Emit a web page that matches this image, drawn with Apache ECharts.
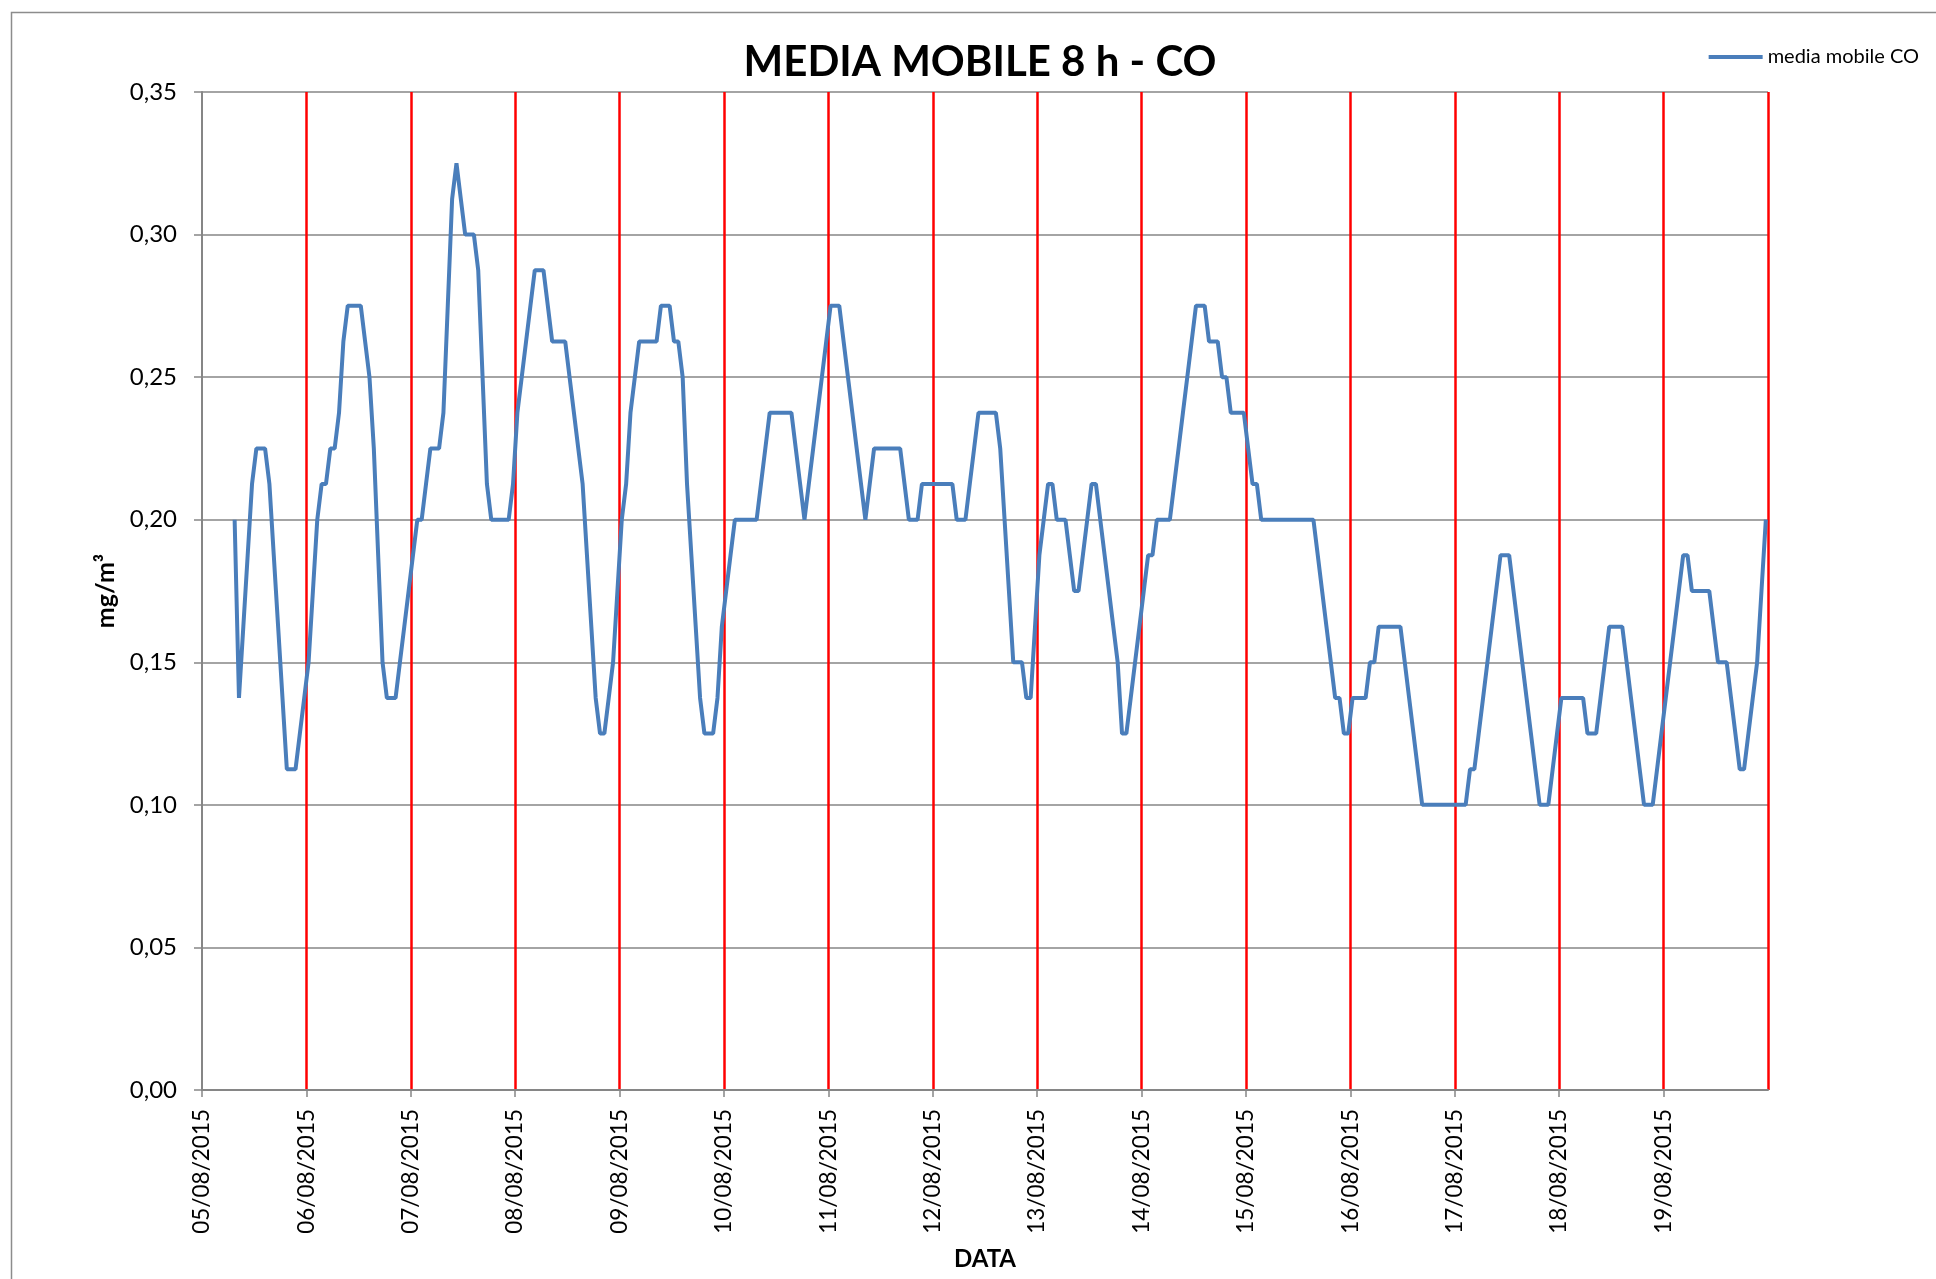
<!DOCTYPE html>
<html>
<head>
<meta charset="utf-8">
<title>MEDIA MOBILE 8 h - CO</title>
<script src="https://cdn.jsdelivr.net/npm/echarts@6/dist/echarts.min.js"></script>
<style>
    html, body { margin: 0; padding: 0; background: #fff; }
    #chart { width: 1936px; height: 1279px; }
</style>
</head>
<body>
<div id="chart"></div>
<script>
// etichette dell'asse delle date (una per giorno)
var dateLabels = ['05/08/2015', '06/08/2015', '07/08/2015', '08/08/2015', '09/08/2015',
    '10/08/2015', '11/08/2015', '12/08/2015', '13/08/2015', '14/08/2015',
    '15/08/2015', '16/08/2015', '17/08/2015', '18/08/2015', '19/08/2015'];

// media mobile 8 h CO (mg/m3), un valore per ora, ora 0..23 di ogni giorno
var day05 = [null, null, null, null, null, null, null,
    0.20, 0.1375, 0.1625, 0.1875, 0.2125, 0.225, 0.225, 0.225, 0.2125, 0.1875, 0.1625,
    0.1375, 0.1125, 0.1125, 0.1125, 0.125, 0.1375];
var day06 = [0.15, 0.175, 0.20, 0.2125, 0.2125, 0.225, 0.225, 0.2375, 0.2625, 0.275, 0.275, 0.275,
    0.275, 0.2625, 0.25, 0.225, 0.1875, 0.15, 0.1375, 0.1375, 0.1375, 0.15, 0.1625, 0.175];
var day07 = [0.1875, 0.20, 0.20, 0.2125, 0.225, 0.225, 0.225, 0.2375, 0.275, 0.3125, 0.325, 0.3125,
    0.30, 0.30, 0.30, 0.2875, 0.25, 0.2125, 0.20, 0.20, 0.20, 0.20, 0.20, 0.2125];
var day08 = [0.2375, 0.25, 0.2625, 0.275, 0.2875, 0.2875, 0.2875, 0.275, 0.2625, 0.2625, 0.2625, 0.2625,
    0.25, 0.2375, 0.225, 0.2125, 0.1875, 0.1625, 0.1375, 0.125, 0.125, 0.1375, 0.15, 0.175];
var day09 = [0.20, 0.2125, 0.2375, 0.25, 0.2625, 0.2625, 0.2625, 0.2625, 0.2625, 0.275, 0.275, 0.275,
    0.2625, 0.2625, 0.25, 0.2125, 0.1875, 0.1625, 0.1375, 0.125, 0.125, 0.125, 0.1375, 0.1625];
var day10 = [0.175, 0.1875, 0.20, 0.20, 0.20, 0.20, 0.20, 0.20, 0.2125, 0.225, 0.2375, 0.2375,
    0.2375, 0.2375, 0.2375, 0.2375, 0.225, 0.2125, 0.20, 0.2125, 0.225, 0.2375, 0.25, 0.2625];
var day11 = [0.275, 0.275, 0.275, 0.2625, 0.25, 0.2375, 0.225, 0.2125, 0.20, 0.2125, 0.225, 0.225,
    0.225, 0.225, 0.225, 0.225, 0.225, 0.2125, 0.20, 0.20, 0.20, 0.2125, 0.2125, 0.2125];
var day12 = [0.2125, 0.2125, 0.2125, 0.2125, 0.2125, 0.20, 0.20, 0.20, 0.2125, 0.225, 0.2375, 0.2375,
    0.2375, 0.2375, 0.2375, 0.225, 0.20, 0.175, 0.15, 0.15, 0.15, 0.1375, 0.1375, 0.1625];
var day13 = [0.1875, 0.20, 0.2125, 0.2125, 0.20, 0.20, 0.20, 0.1875, 0.175, 0.175, 0.1875, 0.20,
    0.2125, 0.2125, 0.20, 0.1875, 0.175, 0.1625, 0.15, 0.125, 0.125, 0.1375, 0.15, 0.1625];
var day14 = [0.175, 0.1875, 0.1875, 0.20, 0.20, 0.20, 0.20, 0.2125, 0.225, 0.2375, 0.25, 0.2625,
    0.275, 0.275, 0.275, 0.2625, 0.2625, 0.2625, 0.25, 0.25, 0.2375, 0.2375, 0.2375, 0.2375];
var day15 = [0.225, 0.2125, 0.2125, 0.20, 0.20, 0.20, 0.20, 0.20, 0.20, 0.20, 0.20, 0.20,
    0.20, 0.20, 0.20, 0.20, 0.1875, 0.175, 0.1625, 0.15, 0.1375, 0.1375, 0.125, 0.125];
var day16 = [0.1375, 0.1375, 0.1375, 0.1375, 0.15, 0.15, 0.1625, 0.1625, 0.1625, 0.1625, 0.1625, 0.1625,
    0.15, 0.1375, 0.125, 0.1125, 0.10, 0.10, 0.10, 0.10, 0.10, 0.10, 0.10, 0.10];
var day17 = [0.10, 0.10, 0.10, 0.1125, 0.1125, 0.125, 0.1375, 0.15, 0.1625, 0.175, 0.1875, 0.1875,
    0.1875, 0.175, 0.1625, 0.15, 0.1375, 0.125, 0.1125, 0.10, 0.10, 0.10, 0.1125, 0.125];
var day18 = [0.1375, 0.1375, 0.1375, 0.1375, 0.1375, 0.1375, 0.125, 0.125, 0.125, 0.1375, 0.15, 0.1625,
    0.1625, 0.1625, 0.1625, 0.15, 0.1375, 0.125, 0.1125, 0.10, 0.10, 0.10, 0.1125, 0.125];
var day19 = [0.1375, 0.15, 0.1625, 0.175, 0.1875, 0.1875, 0.175, 0.175, 0.175, 0.175, 0.175, 0.1625,
    0.15, 0.15, 0.15, 0.1375, 0.125, 0.1125, 0.1125, 0.125, 0.1375, 0.15, 0.175, 0.20];

var FONT = 'Lato, "Open Sans", sans-serif';
var HOURS_PER_DAY = 24;

var hourly = [].concat(day05, day06, day07, day08, day09, day10, day11, day12,
    day13, day14, day15, day16, day17, day18, day19);

// ogni valore al centro della sua ora (come Excel "tra i segni di graduazione")
var seriesData = [];
hourly.forEach(function (v, i) {
    if (v !== null) seriesData.push([i + 0.5, v]);
});

var chart = echarts.init(document.getElementById('chart'), null, { renderer: 'canvas' });

chart.setOption({
    backgroundColor: '#fff',
    animation: false,
    textStyle: { fontFamily: FONT },
    graphic: [{
        // cornice dell'area del grafico
        type: 'rect',
        left: 9, top: 10,
        shape: { width: 3000, height: 3000 },
        style: { fill: 'none', stroke: '#8c8c8c', lineWidth: 1.5 },
        silent: true
    }],
    title: {
        text: 'MEDIA MOBILE 8 h - CO',
        left: 975,
        top: 36,
        textAlign: 'center',
        textStyle: { fontFamily: FONT, fontSize: 42, fontWeight: 'bold', color: '#000' }
    },
    legend: {
        data: ['media mobile CO'],
        icon: 'rect',
        right: 12,
        top: 42,
        itemWidth: 54,
        itemHeight: 4,
        textStyle: { fontFamily: FONT, fontSize: 20, color: '#000' }
    },
    grid: {
        left: 202,
        right: 168,
        top: 92,
        bottom: 189,
        containLabel: false
    },
    xAxis: {
        type: 'value',
        min: 0,
        max: dateLabels.length * HOURS_PER_DAY,
        interval: HOURS_PER_DAY,
        name: 'DATA',
        nameLocation: 'middle',
        nameGap: 157,
        nameTextStyle: { fontFamily: FONT, fontSize: 24, fontWeight: 'bold', color: '#000' },
        axisLine: { show: true, lineStyle: { color: '#868686', width: 2 } },
        axisTick: { show: true, length: 7, lineStyle: { color: '#868686', width: 1.5 } },
        axisLabel: {
            rotate: 90,
            margin: 19,
            fontFamily: FONT,
            fontSize: 22.5,
            color: '#000',
            showMaxLabel: false,
            formatter: function (v) {
                var k = Math.round(v / HOURS_PER_DAY);
                return dateLabels[k] || '';
            }
        },
        splitLine: {
            show: true,
            showMinLine: false,
            lineStyle: { color: '#ff0000', width: 2.5 }
        }
    },
    yAxis: {
        type: 'value',
        min: 0,
        max: 0.35,
        interval: 0.05,
        name: 'mg/m³',
        nameLocation: 'middle',
        nameGap: 80,
        nameRotate: 90,
        nameTextStyle: { fontFamily: FONT, fontSize: 25, fontWeight: 'bold', color: '#000' },
        axisLine: { show: true, lineStyle: { color: '#868686', width: 2 } },
        axisTick: { show: true, length: 8, lineStyle: { color: '#868686', width: 1.5 } },
        axisLabel: {
            margin: 25,
            fontFamily: FONT,
            fontSize: 24,
            color: '#000',
            formatter: function (v) { return v.toFixed(2).replace('.', ','); }
        },
        splitLine: { show: true, lineStyle: { color: '#868686', width: 1.5 } }
    },
    series: [{
        name: 'media mobile CO',
        type: 'line',
        data: seriesData,
        symbol: 'none',
        lineStyle: { color: '#4a7ebb', width: 4 },
        itemStyle: { color: '#4a7ebb' }
    }]
});
</script>
</body>
</html>
